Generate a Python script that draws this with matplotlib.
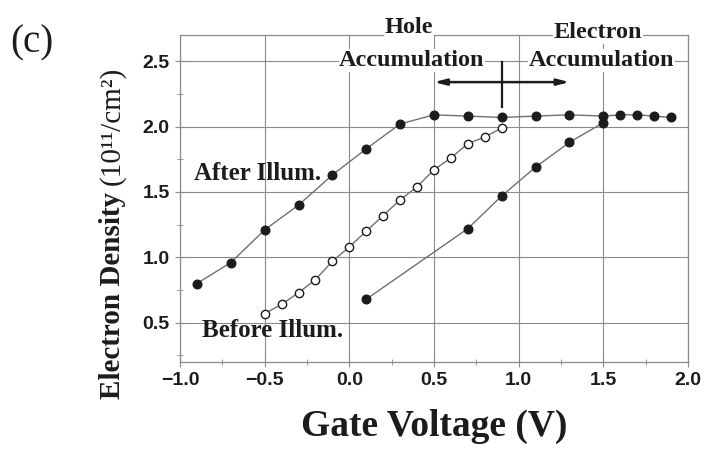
import matplotlib
matplotlib.use("Agg")
import matplotlib.pyplot as plt
from matplotlib.ticker import MultipleLocator

# gate voltage (V) and 2DEG density (1e11 cm^-2)
v_after = [-0.9, -0.7, -0.5, -0.3, -0.1, 0.1, 0.3, 0.5, 0.7, 0.9, 1.1, 1.3, 1.5, 1.6, 1.7, 1.8, 1.9]
n_after = [0.80, 0.96, 1.21, 1.40, 1.63, 1.83, 2.02, 2.09, 2.08, 2.07, 2.08, 2.09, 2.08, 2.09, 2.09, 2.08, 2.07]

v_open = [-0.5, -0.4, -0.3, -0.2, -0.1, 0.0, 0.1, 0.2, 0.3, 0.4, 0.5, 0.6, 0.7, 0.8, 0.9]
n_open = [0.57, 0.64, 0.73, 0.83, 0.97, 1.08, 1.20, 1.32, 1.44, 1.54, 1.67, 1.76, 1.87, 1.92, 1.99]

v_before = [0.1, 0.7, 0.9, 1.1, 1.3, 1.5]
n_before = [0.68, 1.22, 1.47, 1.69, 1.88, 2.03]

SERIF = "Liberation Serif"
SANS = "Liberation Sans"
INK = "#1c1c1c"
LINE = "#707070"
GRID = "#8a8a8a"

fig = plt.figure(figsize=(7.05, 4.61), dpi=100)
ax = fig.add_axes([0.2553, 0.2148, 0.7206, 0.7092])

for v, n in [(v_after, n_after), (v_before, n_before)]:
    ax.plot(v, n, color=LINE, lw=1.0, zorder=3)
    ax.plot(v, n, "o", ms=6.2, color=INK, mec=INK, zorder=4)
ax.plot(v_open, n_open, color=LINE, lw=1.0, zorder=3)
ax.plot(v_open, n_open, "o", ms=6.0, mfc="white", mec=INK, mew=1.0, zorder=4)

ax.set_xlim(-1.0, 2.0)
ax.set_ylim(0.2, 2.7)
ax.xaxis.set_major_locator(MultipleLocator(0.5))
ax.xaxis.set_minor_locator(MultipleLocator(0.25))
ax.yaxis.set_major_locator(MultipleLocator(0.5))
ax.yaxis.set_minor_locator(MultipleLocator(0.25))
ax.set_yticks([0.5, 1.0, 1.5, 2.0, 2.5])
ax.grid(True, which="major", color=GRID, lw=0.8, zorder=1)
for s in ax.spines.values():
    s.set_color(GRID)
    s.set_linewidth(0.9)
ax.tick_params(which="major", direction="inout", length=7, width=0.8, color=GRID,
               labelsize=14, labelcolor=INK, pad=4)
ax.tick_params(which="minor", direction="inout", length=4, width=0.6, color=GRID)
for lab in ax.get_xticklabels() + ax.get_yticklabels():
    lab.set_fontfamily(SANS)
    lab.set_fontweight("bold")

# axis titles
ax.set_xlabel("Gate Voltage (V)", fontfamily=SERIF, fontweight="bold", fontsize=27,
              color=INK, labelpad=14)
fig.text(0.159, 0.358, "Electron Density", rotation=90, ha="center", va="center",
         fontfamily=SERIF, fontweight="bold", fontsize=21, color=INK)
fig.text(0.159, 0.728, "(10¹¹/cm²)", rotation=90, ha="center", va="center",
         fontfamily=SERIF, fontsize=21, color=INK)
fig.text(0.014, 0.907, "(c)", fontfamily=SERIF, fontsize=28, color=INK,
         ha="left", va="center")

# regime annotations
box = dict(facecolor="white", edgecolor="none", pad=0.5)
txt = dict(fontfamily=SERIF, fontweight="bold", fontsize=17.5, color=INK,
           ha="center", va="center", zorder=6, bbox=box)
ax.text(0.35, 2.755, "Hole", **txt)
ax.text(0.37, 2.505, "Accumulation", **txt)
ax.text(1.47, 2.72, "Electron", **txt)
ax.text(1.49, 2.505, "Accumulation", **txt)
ax.annotate("", xy=(0.5, 2.34), xytext=(1.3, 2.34),
            arrowprops=dict(arrowstyle="<|-|>,head_length=0.7,head_width=0.18",
                            color=INK, lw=1.8, shrinkA=0, shrinkB=0), zorder=5)
ax.plot([0.9, 0.9], [2.15, 2.49], color=INK, lw=1.6, zorder=5)

ax.text(-0.92, 1.64, "After Illum.", fontfamily=SERIF, fontweight="bold", fontsize=18,
        color=INK, ha="left", va="center", zorder=6)
ax.text(-0.87, 0.44, "Before Illum.", fontfamily=SERIF, fontweight="bold", fontsize=18,
        color=INK, ha="left", va="center", zorder=6)

fig.savefig("out.png", dpi=100, facecolor="white")
